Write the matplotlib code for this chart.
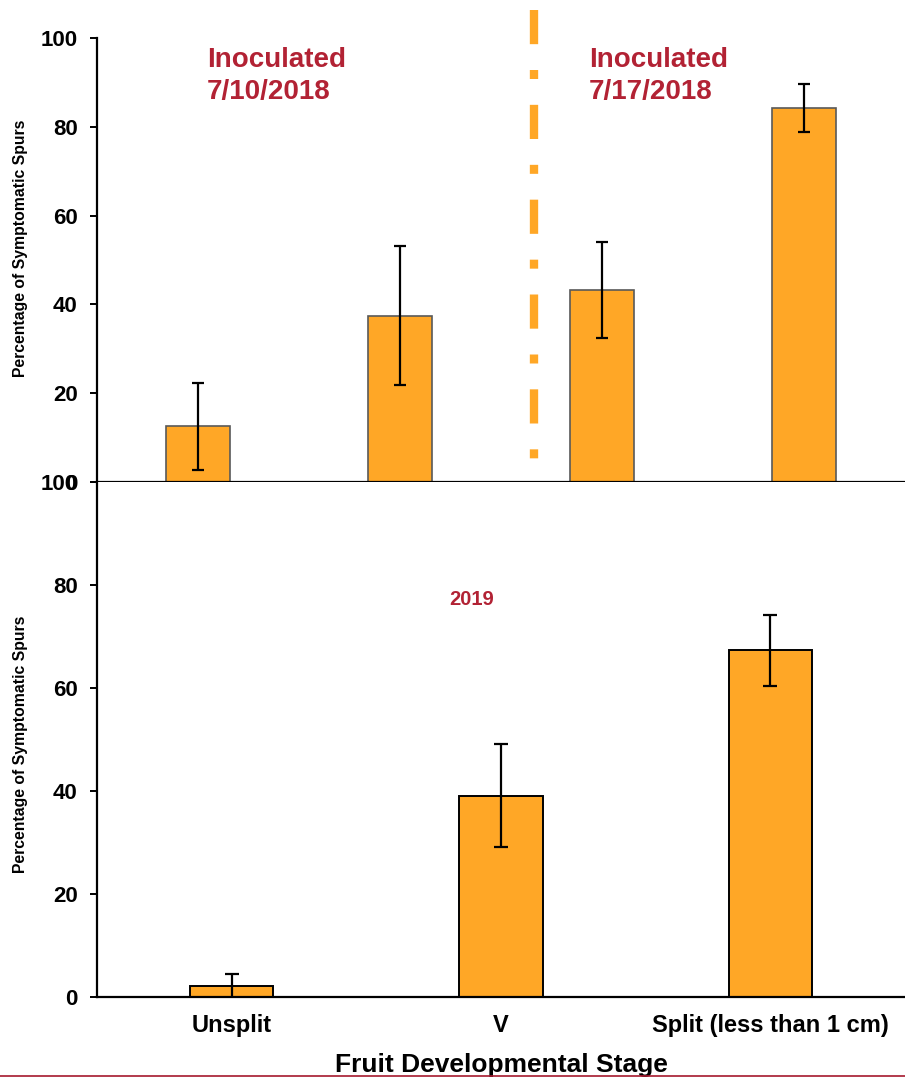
import matplotlib
matplotlib.use("Agg")
import matplotlib.pyplot as plt
from matplotlib import font_manager
from matplotlib.lines import Line2D

# 2018 trial: two inoculation dates
stages_2018 = ["Unsplit", "V", "V", "Split (less than 1\ncm)"]
pct_2018 = [12.5, 37.5, 43.2, 84.2]
err_2018 = [9.7, 15.6, 10.8, 5.4]

# 2019 trial
stages_2019 = ["Unsplit", "V", "Split (less than 1 cm)"]
pct_2019 = [2.1, 39.1, 67.3]
err_2019 = [2.3, 10.0, 6.9]

yticks = [0, 20, 40, 60, 80, 100]

BAR = "#FFA726"
RED = "#B22234"


def pick_font(names):
    for name in names:
        try:
            font_manager.findfont(font_manager.FontProperties(family=name),
                                  fallback_to_default=False)
            return name
        except ValueError:
            continue
    return "DejaVu Sans"


main_font = pick_font(["Liberation Sans", "Arimo", "DejaVu Sans"])
narrow_font = pick_font(["Liberation Sans Narrow", "Arial Narrow", main_font])

plt.rcParams["font.family"] = [main_font, "DejaVu Sans"]
plt.rcParams["font.weight"] = "bold"

fig = plt.figure(figsize=(9.05, 10.78), dpi=100)
ax1 = fig.add_axes([0.1072, 0.5529, 0.8928, 0.4118])
ax2 = fig.add_axes([0.1072, 0.0751, 0.8928, 0.4778])

for ax in (ax1, ax2):
    for side in ("top", "right"):
        ax.spines[side].set_visible(False)
    for side in ("left", "bottom"):
        ax.spines[side].set_linewidth(1.6)
    ax.set_ylim(0, 100)
    ax.set_yticks(yticks)
    ax.tick_params(axis="y", length=5, width=1.4, pad=9, labelsize=16)
    ax.tick_params(axis="x", length=0)

# top panel
x1 = range(len(pct_2018))
ax1.bar(x1, pct_2018, width=0.32, color=BAR, edgecolor="#595959", linewidth=1.2,
        yerr=err_2018, error_kw=dict(ecolor="black", elinewidth=1.6, capsize=4, capthick=1.6))
ax1.set_xlim(-0.5, 3.5)
ax1.set_xticks(list(x1))
ax1.set_xticklabels(stages_2018, fontsize=13, fontweight="bold")
ax1.tick_params(axis="x", pad=11)
ax1.set_ylabel("Percentage of Symptomatic Spurs", fontsize=11.3, fontweight="bold")
ax1.yaxis.set_label_coords(-0.0854, 0.527)

# divider between the two inoculation dates
ax1.plot([1.661, 1.661], [106.3, 5.2], color=BAR, linewidth=6, solid_capstyle="butt",
         dash_capstyle="butt", linestyle=(0, (4.1, 3.1, 1.08, 3.1)), clip_on=False)

ax1.text(0.136, 0.979, "Inoculated\n7/10/2018", transform=ax1.transAxes, ha="left", va="top",
         color=RED, fontsize=20, fontweight="bold", linespacing=1.28)
ax1.text(0.609, 0.979, "Inoculated\n7/17/2018", transform=ax1.transAxes, ha="left", va="top",
         color=RED, fontsize=20, fontweight="bold", linespacing=1.28)

# bottom panel
x2 = range(len(pct_2019))
ax2.bar(x2, pct_2019, width=0.31, color=BAR, edgecolor="black", linewidth=1.4,
        yerr=err_2019, error_kw=dict(ecolor="black", elinewidth=1.6, capsize=5, capthick=1.6))
ax2.set_xlim(-0.5, 2.5)
ax2.set_xticks(list(x2))
ax2.set_xticklabels(stages_2019, fontsize=17, fontweight="bold", family=narrow_font)
ax2.tick_params(axis="x", pad=12)
ax2.set_ylabel("Percentage of Symptomatic Spurs", fontsize=11.3, fontweight="bold")
ax2.yaxis.set_label_coords(-0.0854, 0.49)
ax2.set_xlabel("Fruit Developmental Stage", fontsize=19, fontweight="bold",
               family=narrow_font, labelpad=12)
ax2.text(0.464, 0.771, "2019", transform=ax2.transAxes, ha="center", va="center",
         color=RED, fontsize=14.5, fontweight="bold")

# thin rule along the bottom edge
fig.add_artist(Line2D([0, 1], [0.0014, 0.0014], transform=fig.transFigure,
                      color="#A6192E", linewidth=1.2))

fig.savefig("out.png", dpi=100)
